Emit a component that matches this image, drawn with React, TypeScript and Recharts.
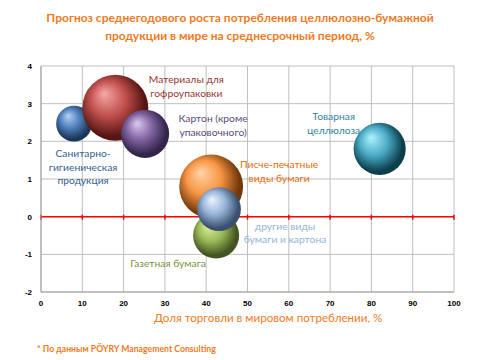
import React from 'react';
import { ScatterChart, Scatter, XAxis, YAxis, ZAxis, CartesianGrid, ReferenceLine } from 'recharts';

document.body.style.margin = '0';

const names = [
  'Санитарно-\nгигиеническая\nпродукция',
  'Материалы для\nгофроупаковки',
  'Картон (кроме\nупаковочного)',
  'Товарная\nцеллюлоза',
  'Писче-печатные\nвиды бумаги',
  'Газетная бумага',
  'другие виды\nбумаги и картона',
];
const tradeShare = [8, 18, 25.2, 82, 41.2, 42.4, 43.1];
const growth = [2.47, 2.89, 2.2, 1.8, 0.8, -0.5, 0.2];
const volume = [32, 109, 58, 68, 102, 53, 48];

const xTicks = [0, 10, 20, 30, 40, 50, 60, 70, 80, 90, 100];
const yTicks = [-2, -1, 0, 1, 2, 3, 4];

const data = names.map((name, i) => ({ name, x: tradeShare[i], y: growth[i], z: volume[i], idx: i }));

// sphere colours: light, base, dark, label
const palette = [
  { light: '#b5d2f5', base: '#4f81bd', dark: '#1c3658', text: '#376092' },
  { light: '#f7a9a7', base: '#c0504d', dark: '#561513', text: '#953735' },
  { light: '#dccaf2', base: '#8064a2', dark: '#33244a', text: '#604a7b' },
  { light: '#aef2ff', base: '#4bacc6', dark: '#0c3e4c', text: '#31859c' },
  { light: '#ffd4a6', base: '#f79646', dark: '#74390a', text: '#e46c0a' },
  { light: '#e0f2a4', base: '#9bbb59', dark: '#435420', text: '#77933c' },
  { light: '#eef5ff', base: '#95b3d7', dark: '#3a506e', text: '#95b3d7' },
];
// label anchor offsets from bubble centre (px)
const labelOffset = [
  [9, 30], [71, -28], [68, -15], [-46, -32], [68, -22], [-48, 28], [66, 17],
];

const font = 'Lato, "Open Sans", sans-serif';
const orange = '#ef7a24';

function Sphere(props: any) {
  const { cx, cy, width, payload } = props;
  return <circle cx={cx} cy={cy} r={width / 2} fill={`url(#sph${payload.idx})`} />;
}

function BubbleLabel(props: any) {
  const { cx, cy, payload } = props;
  const [dx, dy] = labelOffset[payload.idx];
  const lines = payload.name.split('\n');
  return (
    <text
      x={cx + dx}
      y={cy + dy}
      textAnchor="middle"
      fill={palette[payload.idx].text}
      fontFamily={font}
      fontSize={10.3}
    >
      {lines.map((l: string, k: number) => (
        <tspan key={k} x={cx + dx} dy={k === 0 ? '0.35em' : 13.5}>
          {l}
        </tspan>
      ))}
    </text>
  );
}

function ZeroLine(props: any) {
  const { x1, x2, y1 } = props;
  return (
    <g stroke="#ff0000" strokeWidth={1.5}>
      <line x1={x1} x2={x2} y1={y1} y2={y1} />
      {xTicks.map((t) => {
        const x = x1 + ((x2 - x1) * t) / 100;
        return <line key={t} x1={x} x2={x} y1={y1 - 2} y2={y1 + 3} />;
      })}
    </g>
  );
}

export default function App() {
  return (
    <div style={{ position: 'relative', width: 480, height: 360, background: '#fff', fontFamily: font }}>
      <div
        style={{
          position: 'absolute',
          top: 9,
          left: 0,
          width: 480,
          textAlign: 'center',
          color: orange,
          fontWeight: 700,
          fontSize: 12,
          lineHeight: '18px',
        }}
      >
        Прогноз среднегодового роста потребления целлюлозно-бумажной
        <br />
        продукции в мире на среднесрочный период, %
      </div>
      <ScatterChart width={480} height={360} margin={{ top: 66, right: 26, bottom: 48, left: 11 }}>
        <defs>
          {palette.map((p, i) => (
            <radialGradient key={i} id={`sph${i}`} cx="45%" cy="45%" r="60%" fx="33%" fy="28%">
              <stop offset="0%" stopColor={p.light} />
              <stop offset="45%" stopColor={p.base} />
              <stop offset="85%" stopColor={p.dark} />
              <stop offset="100%" stopColor={p.dark} />
            </radialGradient>
          ))}
        </defs>
        <CartesianGrid stroke="#bfbfbf" />
        <XAxis
          type="number"
          dataKey="x"
          domain={[0, 100]}
          ticks={xTicks}
          stroke="#a0a0a0"
          tickLine={false}
          tick={{ fill: '#000', fontSize: 8, fontWeight: 700, fontFamily: 'Liberation Sans, Arial' }}
          height={20}
        />
        <YAxis
          type="number"
          dataKey="y"
          domain={[-2, 4]}
          ticks={yTicks}
          stroke="#a0a0a0"
          tickLine={false}
          width={30}
          tickMargin={3}
          tick={{ fill: '#000', fontSize: 8, fontWeight: 700, fontFamily: 'Liberation Sans, Arial' }}
        />
        <ZAxis type="number" dataKey="z" domain={[0, 110]} range={[0, 3456]} />
        <ReferenceLine y={0} shape={<ZeroLine />} />
        <Scatter data={data} shape={<Sphere />} isAnimationActive={false} />
        <Scatter data={data} shape={<BubbleLabel />} isAnimationActive={false} />
      </ScatterChart>
      <div
        style={{
          position: 'absolute',
          top: 311,
          left: 154,
          color: orange,
          fontSize: 11.6,
          whiteSpace: 'nowrap',
        }}
      >
        Доля торговли в мировом потреблении, %
      </div>
      <div
        style={{
          position: 'absolute',
          top: 343,
          left: 37,
          color: orange,
          fontSize: 8.7,
          fontWeight: 700,
          whiteSpace: 'nowrap',
        }}
      >
        * По данным PÖYRY Management Consulting
      </div>
    </div>
  );
}
